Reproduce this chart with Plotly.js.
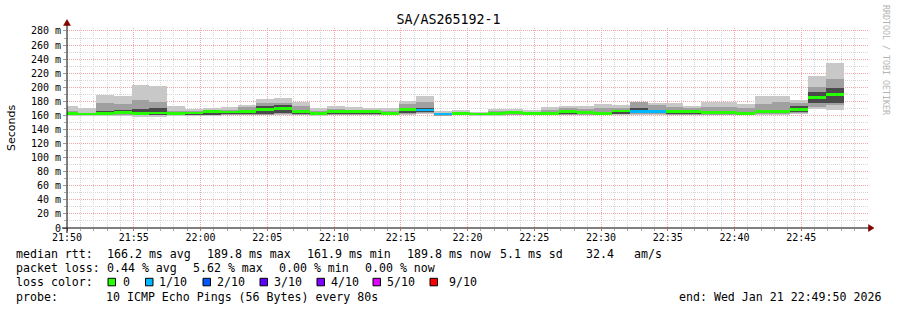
<!DOCTYPE html>
<html><head><meta charset="utf-8">
<script src="https://cdn.plot.ly/plotly-3.0.1.min.js"></script>
<style>html,body{margin:0;padding:0;background:#fff}#chart{width:897px;height:310px}</style>
</head><body><div id="chart"></div>
<script>
// ---------- DATA ----------
const day = '2026-01-21 ';
const intervalStart = ['21:49:30','21:50:50','21:52:10','21:53:30','21:54:50','21:56:10','21:57:30','21:58:50',
  '22:00:10','22:01:30','22:02:50','22:04:10','22:05:30','22:06:50','22:08:10','22:09:30','22:10:50','22:12:10',
  '22:13:30','22:14:50','22:16:10','22:17:30','22:18:50','22:20:10','22:21:30','22:22:50','22:24:10','22:25:30',
  '22:26:50','22:28:10','22:29:30','22:30:50','22:32:10','22:33:30','22:34:50','22:36:10','22:37:30','22:38:50',
  '22:40:10','22:41:30','22:42:50','22:44:10','22:45:30','22:46:50'];
const medianRtt = [163,162,163,164,163,163.5,162.5,163.5,165.3,165,165.3,168.7,170,165.8,162.5,165.3,165.3,165.3,
  163,168.7,167.7,162,162.5,162,163,163.7,162.8,163,165.8,164,163,166.3,166,165.3,165.8,165.8,164,164.4,
  163,165.3,165.3,168.2,185.7,189.8];
const lossTenths = [0,0,0,0,0,0,0,0,0,0,0,0,0,0,0,0,0,0,0,0,1,1,0,0,0,0,0,0,0,0,0,0,1,1,0,0,0,0,0,0,0,0,0,0];
const smokeMin = [159,159,159.5,159.5,158,158,159,159,159.5,160,160,160,161,160,159,160,160,160,160,161,162,158.5,
  160,159.5,159,160,160,160,160,160,160,160.5,161,161,160,160,160,160,160,161,161,161.5,168.7,167.7];
const smokeMax = [173,170.5,189,188,203,202,174,169,171,172.4,175,183.8,185.2,178.6,170,173.4,171.5,170.5,170,180.5,
  188,166,167.7,165.3,169,169,167.2,172.4,173.4,174,176.2,174.8,178.6,177.2,177.7,173.9,179,179,176.7,188,188,182,216,234.5];
const midLo = [160,160,160,160.5,160,160,160,160,160.5,161,161,161,162,161,160,161,161,161,160.5,162,163,159.5,161,160.5,
  160,160.5,160.5,160.5,161,161,161,161.5,162,162,161,161,161,161,161,162,162,163,172.4,174.8];
const midHi = [167,164,178,176,182,179,167,166,168,168,172,178,178,174,166,169,168,168,166,176,178.6,164,165,164,167,
  167,165,168,170,169,170,170,178.6,175,172,170,172,172,170,176.7,178.6,177,200.9,211.8];
const innerLo = [161,160.5,161,161.5,161,161,161,161,161,162,162,161.5,164,162,161,162,162,162,161,164,164.5,160.5,161.5,
  161,161,161.5,161.5,161.5,162,162,162,162.5,163,163,162,162,162,162,161.5,163,163,164.5,177,177];
const innerHi = [165,163,166,168,169,171,164,165,166,166,167,173,175,168,164,167,166.5,166.5,164.5,171,170,163.5,164,163,
  165,165,164,165,167,166,165,168,171,168,168,167.5,166,166,165,168,168,173.5,193.8,199.4];

const xTickLabels = ['21:50','21:55','22:00','22:05','22:10','22:15','22:20','22:25','22:30','22:35','22:40','22:45'];
const yTickVals = [0,20,40,60,80,100,120,140,160,180,200,220,240,260,280];
const yTickText = ['0','20 m','40 m','60 m','80 m','100 m','120 m','140 m','160 m','180 m','200 m','220 m','240 m','260 m','280 m'];
const lossLevels = [0,1,2,3,4,5,9];
const lossLabels = ['0','1/10','2/10','3/10','4/10','5/10','9/10'];
const lossColors = ['#26ff00','#00b8ff','#0059ff','#5e00ff','#7e00ff','#dd00ff','#ff0000'];
const rttStats = ['166.2 ms avg','189.8 ms max','161.9 ms min','189.8 ms now','5.1 ms sd','32.4','am/s'];
const lossStats = ['0.44 % avg','5.62 % max','0.00 % min','0.00 % now'];
const probeText = '10 ICMP Echo Pings (56 Bytes) every 80s';
const endText = 'end: Wed Jan 21 22:49:50 2026';
const chartTitle = 'SA/AS265192-1';

// ---------- LAYOUT HELPERS ----------
const W = 897, H = 310, L = 67, R = 868, T = 28, B = 228;
const px = x => (x - L) / (R - L);
const py = y => (B - y) / (B - T);
const STEP_MS = 80000;
const xs = intervalStart.map(t => day + t);
const mono = 'DejaVu Sans Mono';

function band(lo, hi, color) {
  return {type:'bar', x: xs, base: lo, y: hi.map((h,i)=>h-lo[i]), width: STEP_MS, offset: 0,
    marker:{color: color, line:{width:0}}, hoverinfo:'skip'};
}
function lossColor(n) {
  let c = lossColors[0];
  lossLevels.forEach((lv,i)=>{ if (n >= lv) c = lossColors[i]; });
  return c;
}
const medHalf = 2.0;
const traces = [
  band(smokeMin, smokeMax, '#c8c8c8'),
  band(midLo, midHi, '#a0a0a0'),
  band(innerLo, innerHi, '#4a4a4a'),
  {type:'bar', x: xs, base: medianRtt.map(m=>m-medHalf), y: medianRtt.map(()=>2*medHalf), width: STEP_MS, offset: 0,
    marker:{color: lossTenths.map(lossColor), line:{width:0}}, hoverinfo:'skip'}
];

const ann = [];
function txt(x, y, s, opts) {
  ann.push(Object.assign({xref:'paper', yref:'paper', x: px(x), y: py(y), text: s, showarrow:false,
    xanchor:'left', yanchor:'middle', borderpad:0, borderwidth:0,
    font:{family: mono, size: 11.6, color:'#000'}}, opts||{}));
}
txt(16, 254.3, 'median rtt:');
[106.5,206.5,306.5,406.5,500,585.7,634.3].forEach((x,i)=>txt(x,254.3,rttStats[i]));
txt(16, 268.3, 'packet loss:');
[106.5,192.5,278.5,364.5].forEach((x,i)=>txt(x,268.3,lossStats[i]));
txt(16, 282.3, 'loss color:');
const boxX = [108,145.5,203,260,317,373,430];
const labX = [123,159,217,274,331,387,449];
const shapes = [];
lossLabels.forEach((lab,i)=>{
  txt(labX[i], 282.3, lab);
  shapes.push({type:'rect', xref:'paper', yref:'paper', x0: px(boxX[i]), x1: px(boxX[i]+7.5), y0: py(278.3), y1: py(285.8),
    fillcolor: lossColors[i], line:{color:'#000', width:1}});
});
txt(16, 296.7, 'probe:');
txt(106.3, 296.7, probeText);
txt(881, 296.7, endText, {xanchor:'right'});
ann.push({xref:'paper', yref:'paper', x: px(886), y: py(60), text:'RRDTOOL / TOBI OETIKER', textangle:90,
  showarrow:false, xanchor:'center', yanchor:'middle', font:{family: mono, size: 8.3, color:'#b4b4b4'}});

// axis lines with arrows
shapes.push({type:'line', xref:'paper', yref:'paper', x0: px(62), x1: px(870), y0: 0, y1: 0, line:{color:'#000', width:1}});
shapes.push({type:'line', xref:'paper', yref:'paper', x0: 0, x1: 0, y0: py(233), y1: py(23), line:{color:'#000', width:1}});
shapes.push({type:'path', xref:'paper', yref:'paper',
  path:`M ${px(868.5)} ${py(224.5)} L ${px(874)} ${py(228)} L ${px(868.5)} ${py(231.5)} Z`,
  fillcolor:'#800000', line:{color:'#800000', width:0.5}});
shapes.push({type:'path', xref:'paper', yref:'paper',
  path:`M ${px(63.5)} ${py(25.5)} L ${px(67)} ${py(19.5)} L ${px(70.5)} ${py(25.5)} Z`,
  fillcolor:'#800000', line:{color:'#800000', width:0.5}});

const layout = {
  width: W, height: H,
  margin:{l: L, r: W - R, t: T, b: H - B, pad: 0},
  paper_bgcolor:'#ffffff', plot_bgcolor:'#ffffff',
  showlegend:false, barmode:'overlay', bargap:0,
  font:{family: mono, size: 10, color:'#000'},
  title:{text: chartTitle, font:{family: mono, size: 13.3, color:'#000'}, x: 0.5, xref:'container', xanchor:'center',
    y: 1 - 19/H, yref:'container', yanchor:'middle'},
  xaxis:{type:'date', range:[day+'21:50:00', day+'22:50:00'], tickmode:'array',
    tickvals: xTickLabels.map(t=>day+t+':00'), ticktext: xTickLabels,
    showgrid:true, gridcolor:'#f0a8a8', griddash:'1px,1px', gridwidth:1,
    minor:{dtick: 60000, tick0: day+'21:50:00', showgrid:true, gridcolor:'#d6d6d6', griddash:'1px,1px', ticks:'outside', ticklen:2, tickcolor:'#aaaaaa'},
    ticks:'outside', ticklen:2, tickcolor:'#e06060', ticklabelstandoff:-2, showline:false, zeroline:false,
    tickfont:{family: mono, size: 10, color:'#000'}, fixedrange:true},
  yaxis:{range:[0, 200/0.7036], tickmode:'array', tickvals: yTickVals, ticktext: yTickText,
    showgrid:true, gridcolor:'#f0a8a8', griddash:'1px,1px', gridwidth:1,
    minor:{tick0:0, dtick:10, showgrid:true, gridcolor:'#d6d6d6', griddash:'1px,1px', ticks:'outside', ticklen:2, tickcolor:'#aaaaaa'},
    ticks:'outside', ticklen:3, tickcolor:'#999999', showline:false, zeroline:false,
    tickfont:{family: mono, size: 10, color:'#000'}, fixedrange:true,
    title:{text:'Seconds', font:{family:'DejaVu Sans', size: 11, color:'#000'}, standoff: 13}},
  annotations: ann, shapes: shapes
};
Plotly.newPlot('chart', traces, layout, {staticPlot:true, displayModeBar:false});
</script></body></html>
